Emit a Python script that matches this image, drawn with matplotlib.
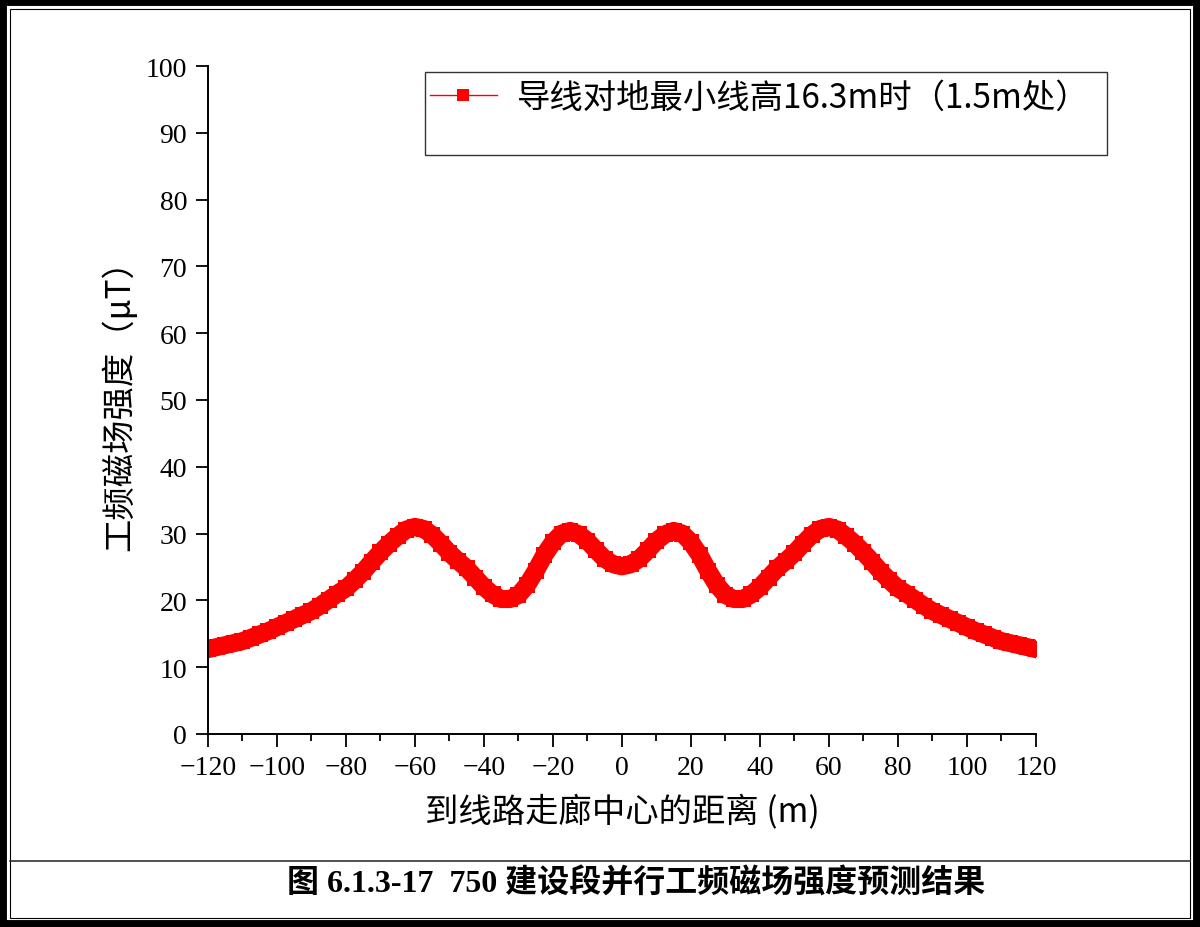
import matplotlib.pyplot as plt
from matplotlib.lines import Line2D
from matplotlib.patches import Rectangle

# distance to corridor centre (m)
distance = [-120, -117.5, -115, -112.5, -110, -107.5, -105, -102.5, -100, -97.5,
            -95, -92.5, -90, -87.5, -85, -82.5, -80, -77.5, -75, -72.5,
            -70, -67.5, -65, -62.5, -60, -57.5, -55, -52.5, -50, -47.5,
            -45, -42.5, -40, -37.5, -35, -32.5, -30, -27.5, -25, -22.5,
            -20, -17.5, -15, -12.5, -10, -7.5, -5, -2.5, 0,
            2.5, 5, 7.5, 10, 12.5, 15, 17.5, 20, 22.5, 25,
            27.5, 30, 32.5, 35, 37.5, 40, 42.5, 45, 47.5, 50,
            52.5, 55, 57.5, 60, 62.5, 65, 67.5, 70, 72.5, 75,
            77.5, 80, 82.5, 85, 87.5, 90, 92.5, 95, 97.5, 100,
            102.5, 105, 107.5, 110, 112.5, 115, 117.5, 120]

# magnetic field strength (uT)
field = [12.7, 13.0, 13.3, 13.6, 13.9, 14.4, 14.9, 15.4, 16.0, 16.6,
         17.2, 17.8, 18.4, 19.2, 20.1, 21.0, 21.8, 23.0, 24.3, 25.8,
         27.2, 28.5, 29.6, 30.6, 31.0, 30.7, 29.8, 28.5, 27.1, 25.9,
         24.8, 23.4, 22.0, 20.9, 20.2, 20.2, 20.8, 22.3, 24.4, 26.8,
         28.7, 30.0, 30.4, 29.9, 28.9, 27.5, 26.2, 25.4, 25.1,
         25.4, 26.2, 27.5, 28.9, 29.9, 30.4, 30.0, 28.7, 26.8, 24.4,
         22.3, 20.8, 20.2, 20.2, 20.9, 22.0, 23.4, 24.8, 25.9, 27.1,
         28.5, 29.8, 30.7, 31.0, 30.6, 29.6, 28.5, 27.2, 25.8, 24.3,
         23.0, 21.8, 21.0, 20.1, 19.2, 18.4, 17.8, 17.2, 16.6, 16.0,
         15.4, 14.9, 14.4, 13.9, 13.6, 13.3, 13.0, 12.7]

x_ticks = [-120, -100, -80, -60, -40, -20, 0, 20, 40, 60, 80, 100, 120]
y_ticks = [0, 10, 20, 30, 40, 50, 60, 70, 80, 90, 100]

series_label = '导线对地最小线高16.3m时（1.5m处）'
x_label = '到线路走廊中心的距离 (m)'
y_label = '工频磁场强度（μT）'
caption = '图 6.1.3-17  750 建设段并行工频磁场强度预测结果'

cjk = ['Noto Sans CJK SC', 'DejaVu Sans']
serif = ['Liberation Serif', 'Noto Sans CJK SC']

fig = plt.figure(figsize=(12, 9.28), dpi=100)
ax = fig.add_axes([0.1733, 0.2080, 0.69, 0.7198])

ax.plot(distance, field, color='#ff0000', linewidth=13, marker='s',
        markersize=12, markeredgewidth=0, solid_joinstyle='round')

ax.set_xlim(-120, 120)
ax.set_ylim(0, 100)
ax.set_xticks(x_ticks)
ax.set_xticks(range(-110, 120, 20), minor=True)
ax.set_yticks(y_ticks)
ax.set_xticklabels([str(t).replace('-', '\u2212') for t in x_ticks], family=serif, fontsize=20)
ax.set_yticklabels([str(t) for t in y_ticks], family=serif, fontsize=20)

for side in ['top', 'right']:
    ax.spines[side].set_visible(False)
for side in ['left', 'bottom']:
    ax.spines[side].set_linewidth(1.4)
ax.tick_params(which='major', direction='out', length=9, width=1.3, pad=6, colors='black')
ax.tick_params(axis='x', which='minor', direction='out', length=5, width=1.3)

ax.set_xlabel(x_label, family=cjk, fontsize=24)
ax.xaxis.set_label_coords(0.5, -0.090)
ax.set_ylabel(y_label, family=cjk, fontsize=24)
ax.yaxis.set_label_coords(-0.086, 0.506)

# legend box (reaches beyond the axes on the right)
fig.add_artist(Rectangle((0.3542, 0.8319), 0.5683, 0.0894, transform=fig.transFigure,
                         facecolor='white', edgecolor='#333333', linewidth=1.0))
handle = Line2D([], [], color='#ff0000', linewidth=1, marker='s', markersize=9,
                markeredgewidth=0)
fig.legend(handles=[handle], labels=[series_label], loc='center left',
           bbox_to_anchor=(0.3583, 0.8945), frameon=False, handlelength=2.0,
           handletextpad=0.6, borderpad=0, borderaxespad=0,
           prop={'family': cjk, 'size': 24})

# page frame and caption
fig.add_artist(Rectangle((0, 0), 1, 1, transform=fig.transFigure, fill=False,
                         edgecolor='black', linewidth=10))
fig.add_artist(Rectangle((0.0085, 0.0097), 0.983, 0.9795, transform=fig.transFigure,
                         fill=False, edgecolor='black', linewidth=0.8))
fig.add_artist(Line2D([0.0085, 0.9915], [1 - 862 / 928, 1 - 862 / 928],
                      transform=fig.transFigure, color='#333333', linewidth=1.2))
fig.text(0.530, 1 - 884 / 928, caption, ha='center', va='center',
         family=serif, fontsize=23, fontweight='bold')

fig.savefig('out.png', dpi=100)
